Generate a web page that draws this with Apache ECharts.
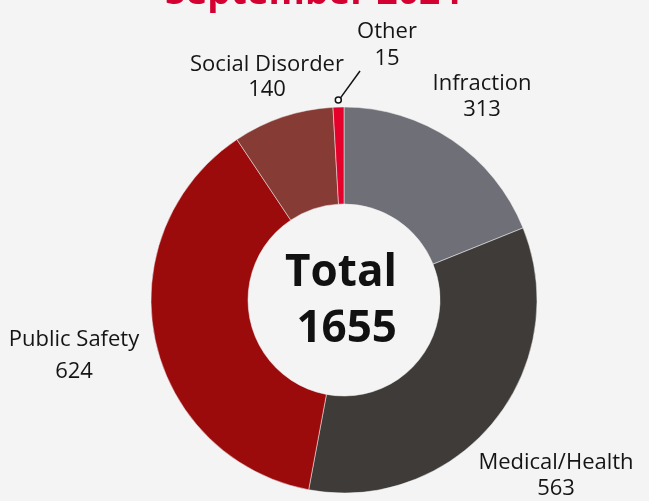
<!DOCTYPE html>
<html>
<head>
<meta charset="utf-8">
<script src="https://cdn.jsdelivr.net/npm/echarts@6/dist/echarts.min.js"></script>
<style>
  html, body { margin: 0; padding: 0; background: #f4f4f4; }
  #main { width: 649px; height: 501px; }
</style>
</head>
<body>
<div id="main"></div>
<script>
const categories = ['Infraction', 'Medical/Health', 'Public Safety', 'Social Disorder', 'Other'];
const counts = [313, 563, 624, 140, 15];
const sliceColors = ['#6f6f78', '#3e3b38', '#9b0b0c', '#873b35', '#e4002b'];
const titleText = 'September 2024';

// label block centres (px) and their line spacing
const labelSpots = [[482, 97], [556, 476], [74, 356], [267, 77], [387, 45]];
const labelGaps = [26, 26, 32, 25, 27];

const total = counts.reduce((a, b) => a + b, 0);
const cx = 344, cy = 300, rIn = 96, rOut = 193;

// leader for the tiny "Other" slice, anchored at its mid angle
let before = 0;
for (let i = 0; i < counts.length - 1; i++) before += counts[i];
const midFrac = (before + counts[counts.length - 1] / 2) / total;
const ang = (90 - midFrac * 360) * Math.PI / 180;
const dotX = cx + (rOut + 7) * Math.cos(ang);
const dotY = cy - (rOut + 7) * Math.sin(ang);

let myChart = echarts.init(document.getElementById('main'));
myChart.setOption({
  backgroundColor: '#f4f4f4',
  title: {
    text: titleText,
    left: 160,
    top: -30,
    textStyle: { color: '#d50032', fontSize: 37, fontWeight: 'bold', fontFamily: 'Open Sans' }
  },
  graphic: [
    {
      type: 'text', x: cx - 3, y: cy + 1, z: 10,
      style: {
        text: 'Total\n ' + total,
        fontSize: 44, fontWeight: 'bold', fontFamily: 'Open Sans',
        fill: '#111', lineHeight: 56, align: 'center', verticalAlign: 'middle'
      }
    },
    {
      type: 'line', z: 10,
      shape: { x1: dotX + 2, y1: dotY - 2, x2: 360, y2: 71 },
      style: { stroke: '#111', lineWidth: 1.5 }
    },
    {
      type: 'circle', z: 11,
      shape: { cx: dotX, cy: dotY, r: 3 },
      style: { fill: '#fff', stroke: '#111', lineWidth: 1.5 }
    }
  ],
  series: [{
    type: 'pie',
    center: [cx, cy],
    radius: [rIn, rOut],
    startAngle: 90,
    clockwise: true,
    avoidLabelOverlap: false,
    emphasis: { disabled: true },
    itemStyle: { borderColor: '#f4f4f4', borderWidth: 0.5 },
    label: {
      show: true,
      formatter: '{b}\n{c}',
      fontFamily: 'Open Sans',
      fontSize: 22,
      color: '#151515'
    },
    labelLine: { show: false },
    labelLayout: function (p) {
      const s = labelSpots[p.dataIndex];
      return { x: s[0], y: s[1], align: 'center', verticalAlign: 'middle' };
    },
    data: categories.map((name, i) => ({
      name: name,
      value: counts[i],
      itemStyle: { color: sliceColors[i] },
      label: { lineHeight: labelGaps[i] }
    }))
  }]
});
</script>
</body>
</html>
